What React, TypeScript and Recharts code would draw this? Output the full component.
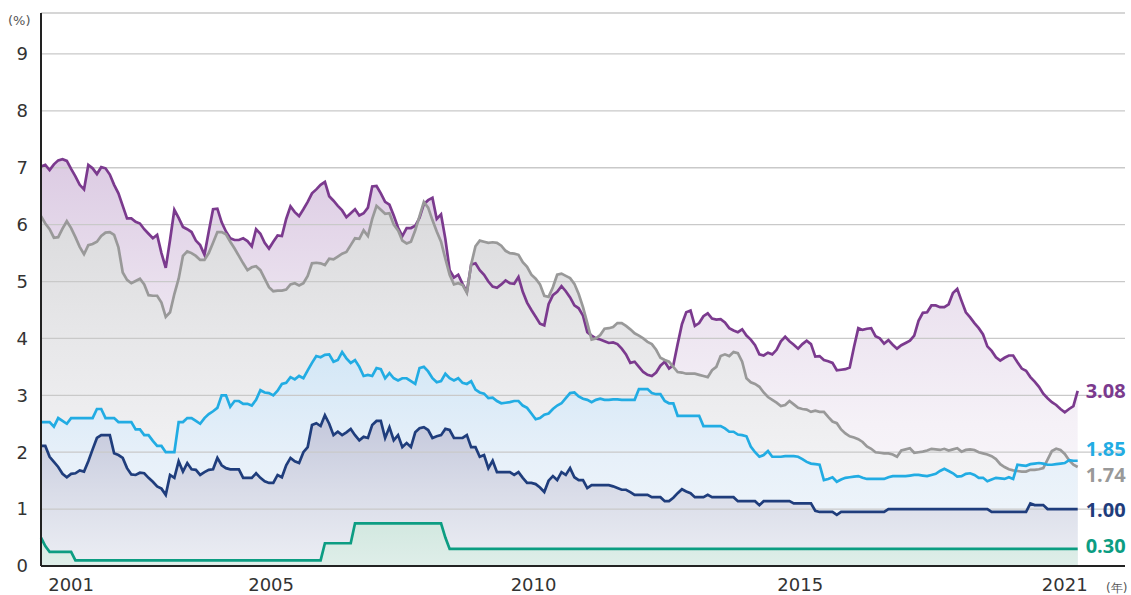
import React from 'react';
import { ComposedChart, Area, Line, XAxis, YAxis, CartesianGrid } from 'recharts';

// monthly, Jan 2001 .. Feb 2021 (242 points)
const purple = [
  7.02, 7.05, 6.96, 7.06, 7.13, 7.15, 7.12, 6.98, 6.85, 6.7, 6.62, 7.05,
  6.99, 6.89, 7.01, 6.99, 6.88, 6.7, 6.55, 6.33, 6.11, 6.11, 6.05, 6.02,
  5.92, 5.84, 5.76, 5.82, 5.5, 5.24, 5.73, 6.26, 6.12, 5.96, 5.92, 5.87,
  5.72, 5.64, 5.47, 5.88, 6.27, 6.28, 6.04, 5.88, 5.76, 5.73, 5.73, 5.76,
  5.71, 5.62, 5.92, 5.84, 5.68, 5.58, 5.7, 5.81, 5.8, 6.1, 6.32, 6.22,
  6.15, 6.27, 6.4, 6.55, 6.62, 6.7, 6.75, 6.5, 6.42, 6.33, 6.25, 6.13,
  6.2, 6.27, 6.16, 6.2, 6.3, 6.67, 6.68, 6.55, 6.4, 6.35, 6.16, 5.95,
  5.8, 5.94, 5.94, 5.98, 6.12, 6.36, 6.43, 6.47, 6.1, 6.18, 5.75, 5.2,
  5.07, 5.12, 4.96, 4.82, 5.3, 5.32, 5.2, 5.12, 5.0, 4.91, 4.89, 4.95,
  5.02, 4.97, 4.96, 5.08, 4.82, 4.63, 4.5, 4.38, 4.26, 4.23, 4.6, 4.76,
  4.82, 4.92, 4.83, 4.72, 4.58, 4.53, 4.4, 4.11, 4.05, 4.0, 3.98, 3.95,
  3.92, 3.93, 3.9, 3.82, 3.72, 3.57, 3.59, 3.5, 3.41, 3.36, 3.34, 3.4,
  3.52, 3.59, 3.47, 3.53, 3.9, 4.25, 4.46, 4.49, 4.22, 4.27, 4.39, 4.44,
  4.35, 4.33, 4.34, 4.28, 4.18, 4.14, 4.11, 4.16, 4.05, 3.98, 3.88, 3.72,
  3.7, 3.75, 3.72, 3.8, 3.95, 4.03, 3.95, 3.89, 3.82, 3.9, 3.96, 3.9,
  3.68, 3.69, 3.62, 3.6, 3.57, 3.44, 3.45, 3.46, 3.49, 3.85, 4.18, 4.15,
  4.17, 4.18, 4.04, 4.0, 3.91, 3.97, 3.89, 3.82, 3.88, 3.92, 3.96, 4.05,
  4.31, 4.45, 4.46, 4.58, 4.58, 4.55, 4.55, 4.6, 4.8, 4.87, 4.66, 4.46,
  4.37, 4.27, 4.18, 4.07, 3.86, 3.78, 3.67, 3.61, 3.66, 3.7, 3.7, 3.58,
  3.47, 3.43, 3.32, 3.24, 3.15, 3.03, 2.95, 2.88, 2.83, 2.76, 2.7, 2.76,
  2.81, 3.08,
];

const gray = [
  6.15, 6.02, 5.92, 5.77, 5.78, 5.93, 6.06, 5.94, 5.78, 5.61, 5.48, 5.64,
  5.66, 5.7, 5.8, 5.86, 5.87, 5.82, 5.6, 5.16, 5.03, 4.97, 5.01, 5.05,
  4.95, 4.76, 4.75, 4.75, 4.63, 4.38, 4.46, 4.78, 5.05, 5.45, 5.53, 5.5,
  5.45, 5.38, 5.38, 5.5, 5.68, 5.87, 5.87, 5.83, 5.7, 5.58, 5.45, 5.32,
  5.2, 5.25, 5.27, 5.2, 5.05, 4.9, 4.83, 4.84, 4.84, 4.86, 4.95, 4.97,
  4.93, 4.97, 5.1, 5.32, 5.33, 5.32, 5.29, 5.4, 5.39, 5.44, 5.49, 5.52,
  5.64, 5.76, 5.75, 5.9, 5.8, 6.1, 6.33, 6.26, 6.19, 6.2, 6.0, 5.9,
  5.72, 5.67, 5.7, 5.9, 6.15, 6.4, 6.3, 6.08, 5.88, 5.7, 5.4, 5.12,
  4.95, 4.97, 4.94, 4.8, 5.3, 5.62, 5.72, 5.7, 5.68, 5.69, 5.68, 5.63,
  5.54, 5.5, 5.49, 5.47, 5.34, 5.26, 5.12, 5.05, 4.95, 4.75, 4.73, 4.9,
  5.12, 5.14, 5.1, 5.06, 4.96, 4.78, 4.55, 4.27, 3.98, 4.0, 4.06, 4.17,
  4.18, 4.2, 4.27, 4.27, 4.22, 4.16, 4.09, 4.05, 4.0, 3.94, 3.9, 3.8,
  3.66, 3.62, 3.59, 3.5, 3.41, 3.4, 3.38, 3.38, 3.38, 3.36, 3.34, 3.32,
  3.44, 3.5, 3.69, 3.72, 3.69, 3.76, 3.74, 3.59, 3.3, 3.23, 3.2, 3.15,
  3.05, 2.97, 2.92, 2.87, 2.81, 2.83, 2.9, 2.84, 2.78, 2.76, 2.75, 2.71,
  2.73, 2.71, 2.71, 2.62, 2.54, 2.51, 2.4, 2.33, 2.28, 2.26, 2.23, 2.18,
  2.1, 2.06, 2.0, 1.99, 1.98, 1.98, 1.96, 1.92, 2.03, 2.05, 2.07, 1.99,
  2.0, 2.01, 2.03, 2.06, 2.05, 2.04, 2.06, 2.03, 2.05, 2.07, 2.01, 2.04,
  2.05, 2.04, 2.0, 1.98, 1.96, 1.93, 1.88, 1.79, 1.74, 1.7, 1.68, 1.67,
  1.66, 1.66, 1.69, 1.69, 1.7, 1.72, 1.87, 2.02, 2.06, 2.04, 1.97, 1.86,
  1.78, 1.74,
];

const blue = [
  2.53, 2.53, 2.53, 2.45, 2.6, 2.55, 2.5, 2.6, 2.6, 2.6, 2.6, 2.6,
  2.6, 2.76, 2.76, 2.6, 2.6, 2.6, 2.53, 2.53, 2.53, 2.53, 2.4, 2.4,
  2.3, 2.3, 2.2, 2.11, 2.11, 2.0, 2.0, 2.0, 2.53, 2.53, 2.6, 2.6,
  2.55, 2.5, 2.6, 2.67, 2.72, 2.78, 3.0, 3.0, 2.8, 2.9, 2.9, 2.85,
  2.85, 2.82, 2.92, 3.09, 3.05, 3.04, 3.0, 3.08, 3.2, 3.22, 3.32, 3.28,
  3.34, 3.3, 3.44, 3.57, 3.69, 3.67, 3.71, 3.72, 3.59, 3.62, 3.76, 3.65,
  3.57, 3.62, 3.5, 3.34, 3.36, 3.34, 3.48, 3.46, 3.3, 3.39, 3.3, 3.26,
  3.3, 3.3, 3.25, 3.2, 3.48, 3.5, 3.42, 3.3, 3.23, 3.25, 3.38, 3.3,
  3.26, 3.3, 3.22, 3.2, 3.25, 3.1, 3.05, 3.03, 2.95, 2.96, 2.9, 2.86,
  2.87, 2.88, 2.9, 2.9, 2.82, 2.78, 2.68, 2.58, 2.6, 2.66, 2.68, 2.76,
  2.82, 2.86, 2.95, 3.04, 3.05, 2.98, 2.94, 2.92, 2.88, 2.92, 2.94, 2.92,
  2.92, 2.93, 2.93, 2.92, 2.92, 2.92, 2.92, 3.11, 3.11, 3.11, 3.04, 3.02,
  3.02, 2.9, 2.86, 2.86, 2.64, 2.64, 2.64, 2.64, 2.64, 2.64, 2.46, 2.46,
  2.46, 2.46, 2.46, 2.42, 2.36, 2.36, 2.31, 2.3, 2.28, 2.1, 2.0, 1.92,
  1.95, 2.02, 1.92, 1.92, 1.92, 1.93, 1.93, 1.93, 1.92, 1.88, 1.83, 1.8,
  1.79, 1.78, 1.51, 1.53, 1.56, 1.48, 1.52, 1.55, 1.56, 1.57, 1.58, 1.55,
  1.53, 1.53, 1.53, 1.53, 1.53, 1.56, 1.58, 1.58, 1.58, 1.58, 1.59, 1.6,
  1.6, 1.59, 1.58, 1.6, 1.62, 1.67, 1.71, 1.67, 1.63, 1.57, 1.58, 1.62,
  1.63, 1.6, 1.55, 1.55, 1.49, 1.52, 1.55, 1.54, 1.53, 1.56, 1.53, 1.78,
  1.77, 1.76, 1.79, 1.8, 1.81, 1.8, 1.78, 1.78, 1.79, 1.8, 1.81, 1.86,
  1.85, 1.85,
];

const navy = [
  2.11, 2.11, 1.92, 1.83, 1.74, 1.62, 1.56, 1.62, 1.63, 1.68, 1.66, 1.84,
  2.05, 2.25, 2.3, 2.3, 2.3, 1.98, 1.95, 1.9, 1.72, 1.61, 1.6, 1.64,
  1.63, 1.55, 1.48, 1.4, 1.36, 1.25, 1.6, 1.55, 1.84, 1.66, 1.81, 1.7,
  1.69, 1.6, 1.65, 1.69, 1.7, 1.9, 1.77, 1.72, 1.7, 1.7, 1.7, 1.55,
  1.55, 1.55, 1.63, 1.55, 1.49, 1.46, 1.46, 1.6, 1.56, 1.77, 1.9, 1.84,
  1.81, 2.0, 2.09, 2.48, 2.51, 2.46, 2.65, 2.5, 2.3, 2.36, 2.3, 2.35,
  2.41, 2.3, 2.21, 2.27, 2.25, 2.48, 2.55, 2.55, 2.25, 2.44, 2.21, 2.3,
  2.09, 2.16, 2.09, 2.35, 2.42, 2.44, 2.39, 2.25, 2.28, 2.3, 2.41, 2.39,
  2.25, 2.25, 2.25, 2.3, 2.09, 2.09, 1.92, 1.95, 1.72, 1.85, 1.65, 1.65,
  1.65, 1.65, 1.6, 1.65, 1.55, 1.46, 1.46, 1.44, 1.38, 1.3, 1.5, 1.58,
  1.51, 1.65, 1.6, 1.72, 1.56, 1.51, 1.51, 1.37, 1.42, 1.42, 1.42, 1.42,
  1.42, 1.4, 1.37, 1.34, 1.34, 1.3, 1.25, 1.25, 1.25, 1.25, 1.21, 1.21,
  1.21, 1.14, 1.14, 1.2, 1.28, 1.35, 1.31, 1.28, 1.21, 1.21, 1.21, 1.25,
  1.21, 1.21, 1.21, 1.21, 1.21, 1.21, 1.14, 1.14, 1.14, 1.14, 1.14, 1.07,
  1.14, 1.14, 1.14, 1.14, 1.14, 1.14, 1.14, 1.1, 1.1, 1.1, 1.1, 1.1,
  0.97, 0.95, 0.95, 0.95, 0.95, 0.9, 0.95, 0.95, 0.95, 0.95, 0.95, 0.95,
  0.95, 0.95, 0.95, 0.95, 0.95, 1.0, 1.0, 1.0, 1.0, 1.0, 1.0, 1.0,
  1.0, 1.0, 1.0, 1.0, 1.0, 1.0, 1.0, 1.0, 1.0, 1.0, 1.0, 1.0,
  1.0, 1.0, 1.0, 1.0, 1.0, 0.95, 0.95, 0.95, 0.95, 0.95, 0.95, 0.95,
  0.95, 0.95, 1.1, 1.07, 1.07, 1.07, 1.0, 1.0, 1.0, 1.0, 1.0, 1.0,
  1.0, 1.0,
];

const green = [
  0.5, 0.35, 0.25, 0.25, 0.25, 0.25, 0.25, 0.25, 0.1, 0.1, 0.1, 0.1,
  0.1, 0.1, 0.1, 0.1, 0.1, 0.1, 0.1, 0.1, 0.1, 0.1, 0.1, 0.1,
  0.1, 0.1, 0.1, 0.1, 0.1, 0.1, 0.1, 0.1, 0.1, 0.1, 0.1, 0.1,
  0.1, 0.1, 0.1, 0.1, 0.1, 0.1, 0.1, 0.1, 0.1, 0.1, 0.1, 0.1,
  0.1, 0.1, 0.1, 0.1, 0.1, 0.1, 0.1, 0.1, 0.1, 0.1, 0.1, 0.1,
  0.1, 0.1, 0.1, 0.1, 0.1, 0.1, 0.4, 0.4, 0.4, 0.4, 0.4, 0.4,
  0.4, 0.75, 0.75, 0.75, 0.75, 0.75, 0.75, 0.75, 0.75, 0.75, 0.75, 0.75,
  0.75, 0.75, 0.75, 0.75, 0.75, 0.75, 0.75, 0.75, 0.75, 0.75, 0.5, 0.3,
  0.3, 0.3, 0.3, 0.3, 0.3, 0.3, 0.3, 0.3, 0.3, 0.3, 0.3, 0.3,
  0.3, 0.3, 0.3, 0.3, 0.3, 0.3, 0.3, 0.3, 0.3, 0.3, 0.3, 0.3,
  0.3, 0.3, 0.3, 0.3, 0.3, 0.3, 0.3, 0.3, 0.3, 0.3, 0.3, 0.3,
  0.3, 0.3, 0.3, 0.3, 0.3, 0.3, 0.3, 0.3, 0.3, 0.3, 0.3, 0.3,
  0.3, 0.3, 0.3, 0.3, 0.3, 0.3, 0.3, 0.3, 0.3, 0.3, 0.3, 0.3,
  0.3, 0.3, 0.3, 0.3, 0.3, 0.3, 0.3, 0.3, 0.3, 0.3, 0.3, 0.3,
  0.3, 0.3, 0.3, 0.3, 0.3, 0.3, 0.3, 0.3, 0.3, 0.3, 0.3, 0.3,
  0.3, 0.3, 0.3, 0.3, 0.3, 0.3, 0.3, 0.3, 0.3, 0.3, 0.3, 0.3,
  0.3, 0.3, 0.3, 0.3, 0.3, 0.3, 0.3, 0.3, 0.3, 0.3, 0.3, 0.3,
  0.3, 0.3, 0.3, 0.3, 0.3, 0.3, 0.3, 0.3, 0.3, 0.3, 0.3, 0.3,
  0.3, 0.3, 0.3, 0.3, 0.3, 0.3, 0.3, 0.3, 0.3, 0.3, 0.3, 0.3,
  0.3, 0.3, 0.3, 0.3, 0.3, 0.3, 0.3, 0.3, 0.3, 0.3, 0.3, 0.3,
  0.3, 0.3,
];

// year labels sit at these month positions in the original
const xTicks = [7, 53.5, 114.5, 176.5, 238];
const xTickLabels = ['2001', '2005', '2010', '2015', '2021'];
const yTicks = [0, 1, 2, 3, 4, 5, 6, 7, 8, 9];

const data = purple.map((v, i) => ({
  i,
  purple: v,
  gray: gray[i],
  blue: blue[i],
  navy: navy[i],
  green: green[i],
}));

const last = purple.length - 1;
const FONT = '"DejaVu Sans", "Noto Sans", sans-serif';
const LABEL_FONT = '"Open Sans", "Noto Sans", sans-serif';

const series = [
  { key: 'purple', color: '#7b3a8e', grad: 'gPurple', dy: 0 },
  { key: 'gray', color: '#999999', grad: 'gGray', dy: 7 },
  { key: 'blue', color: '#22ace3', grad: 'gBlue', dy: -12 },
  { key: 'navy', color: '#1f3d7c', grad: 'gNavy', dy: 0 },
  { key: 'green', color: '#0c9d82', grad: 'gGreen', dy: -3 },
];

const endLabel = (color: string, dy: number) => (props: any) => {
  if (props.index !== last) return <g />;
  return (
    <text
      x={props.x + 8}
      y={props.y + dy}
      fill={color}
      fontSize={20}
      fontWeight={700}
      fontFamily={LABEL_FONT}
      dominantBaseline="central"
    >
      {Number(props.value).toFixed(2)}
    </text>
  );
};

const App: React.FC = () => {
  return (
    <div style={{ position: 'absolute', left: 0, top: 0, width: 1131, height: 595, background: '#fff', fontFamily: FONT }}>
      <ComposedChart width={1131} height={595} data={data} margin={{ top: 13, right: 6, left: 0, bottom: 0 }}>
        <defs>
          <linearGradient id="gPurple" x1="0" y1="0" x2="0" y2="1">
            <stop offset="0%" stopColor="#dccbe3" />
            <stop offset="35%" stopColor="#ebe2ef" />
            <stop offset="65%" stopColor="#f5f1f7" />
            <stop offset="100%" stopColor="#fbfafc" />
          </linearGradient>
          <linearGradient id="gGray" x1="0" y1="0" x2="0" y2="1">
            <stop offset="0%" stopColor="#dadadc" />
            <stop offset="40%" stopColor="#e8e8ea" />
            <stop offset="70%" stopColor="#f1f1f3" />
            <stop offset="100%" stopColor="#f7f7f8" />
          </linearGradient>
          <linearGradient id="gBlue" x1="0" y1="0" x2="0" y2="1">
            <stop offset="0%" stopColor="#d3e7f6" />
            <stop offset="50%" stopColor="#e7f0f9" />
            <stop offset="100%" stopColor="#f3f7fb" />
          </linearGradient>
          <linearGradient id="gNavy" x1="0" y1="0" x2="0" y2="1">
            <stop offset="0%" stopColor="#c3c7db" />
            <stop offset="50%" stopColor="#d9dce8" />
            <stop offset="100%" stopColor="#eceef4" />
          </linearGradient>
          <linearGradient id="gGreen" x1="0" y1="0" x2="0" y2="1">
            <stop offset="0%" stopColor="#d2e8e0" />
            <stop offset="100%" stopColor="#dfeee9" />
          </linearGradient>
        </defs>
        <XAxis
          dataKey="i"
          type="number"
          domain={[0, 252]}
          ticks={xTicks}
          tickFormatter={(v: number) => xTickLabels[xTicks.indexOf(v)] ?? ''}
          axisLine={{ stroke: '#222', strokeWidth: 2 }}
          tickLine={false}
          tickSize={6}
          tickMargin={6}
          height={29}
          tick={{ fill: '#333', fontSize: 18, fontFamily: FONT }}
        />
        <YAxis
          type="number"
          domain={[0, 9.72]}
          ticks={yTicks}
          axisLine={{ stroke: '#222', strokeWidth: 2 }}
          tickLine={false}
          tickSize={6}
          tickMargin={7}
          width={41}
          tick={{ fill: '#333', fontSize: 18, fontFamily: FONT }}
        />
        {series.map((s) => (
          <Area
            key={'a' + s.key}
            type="linear"
            dataKey={s.key}
            stroke="none"
            fill={`url(#${s.grad})`}
            fillOpacity={1}
            isAnimationActive={false}
            activeDot={false}
          />
        ))}
        <CartesianGrid vertical={false} stroke="#c9c9c9" strokeWidth={1.3} zIndex={150} />
        {series.map((s) => (
          <Line
            key={'l' + s.key}
            type="linear"
            dataKey={s.key}
            stroke={s.color}
            strokeWidth={2.7}
            dot={false}
            activeDot={false}
            isAnimationActive={false}
            label={endLabel(s.color, s.dy)}
          />
        ))}
      </ComposedChart>
      <div style={{ position: 'absolute', left: 8, top: 13, fontSize: 13, color: '#555' }}>(%)</div>
      <div style={{ position: 'absolute', left: 1106, top: 580, fontSize: 12, color: '#555' }}>(年)</div>
    </div>
  );
};

export default App;
